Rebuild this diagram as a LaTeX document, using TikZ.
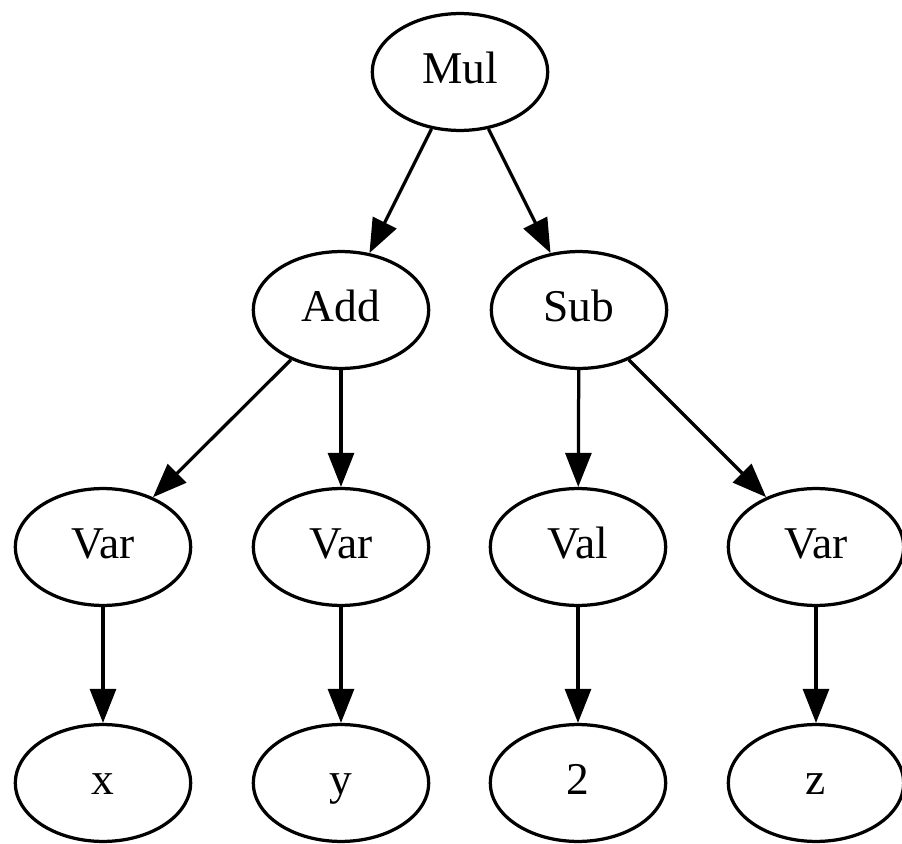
\documentclass[tikz,border=0pt]{standalone}
\usepackage{fontspec}
\setmainfont{Liberation Serif}
\usetikzlibrary{shapes.geometric,arrows.meta}
\begin{document}
\begin{tikzpicture}[x=0.308pt,y=-0.308pt,
  gvnode/.style={draw,ellipse,line width=1pt,minimum width=54pt,minimum height=36pt,inner sep=0pt,text height=10pt,text depth=3pt,font=\fontsize{14pt}{16pt}\selectfont},
  gvedge/.style={line width=1pt,-{Triangle[length=10.5pt,width=8pt]}}]
\useasboundingbox (0,0) rectangle (902,844);
\node[gvnode] (mul) at (460,72) {Mul};
\node[gvnode] (add) at (341,310) {Add};
\node[gvnode] (sub) at (579,310) {Sub};
\node[gvnode] (var1) at (103,547) {Var};
\node[gvnode] (var2) at (341,547) {Var};
\node[gvnode] (val) at (578,547) {Val};
\node[gvnode] (var3) at (816,547) {Var};
\node[gvnode] (x) at (103,783) {x};
\node[gvnode] (y) at (341,783) {y};
\node[gvnode] (two) at (578,783) {2};
\node[gvnode] (z) at (816,783) {z};
\draw[gvedge] (mul) -- (add);
\draw[gvedge] (mul) -- (sub);
\draw[gvedge] (add) -- (var1);
\draw[gvedge] (add) -- (var2);
\draw[gvedge] (sub) -- (val);
\draw[gvedge] (sub) -- (var3);
\draw[gvedge] (var1) -- (x);
\draw[gvedge] (var2) -- (y);
\draw[gvedge] (val) -- (two);
\draw[gvedge] (var3) -- (z);
\end{tikzpicture}
\end{document}
